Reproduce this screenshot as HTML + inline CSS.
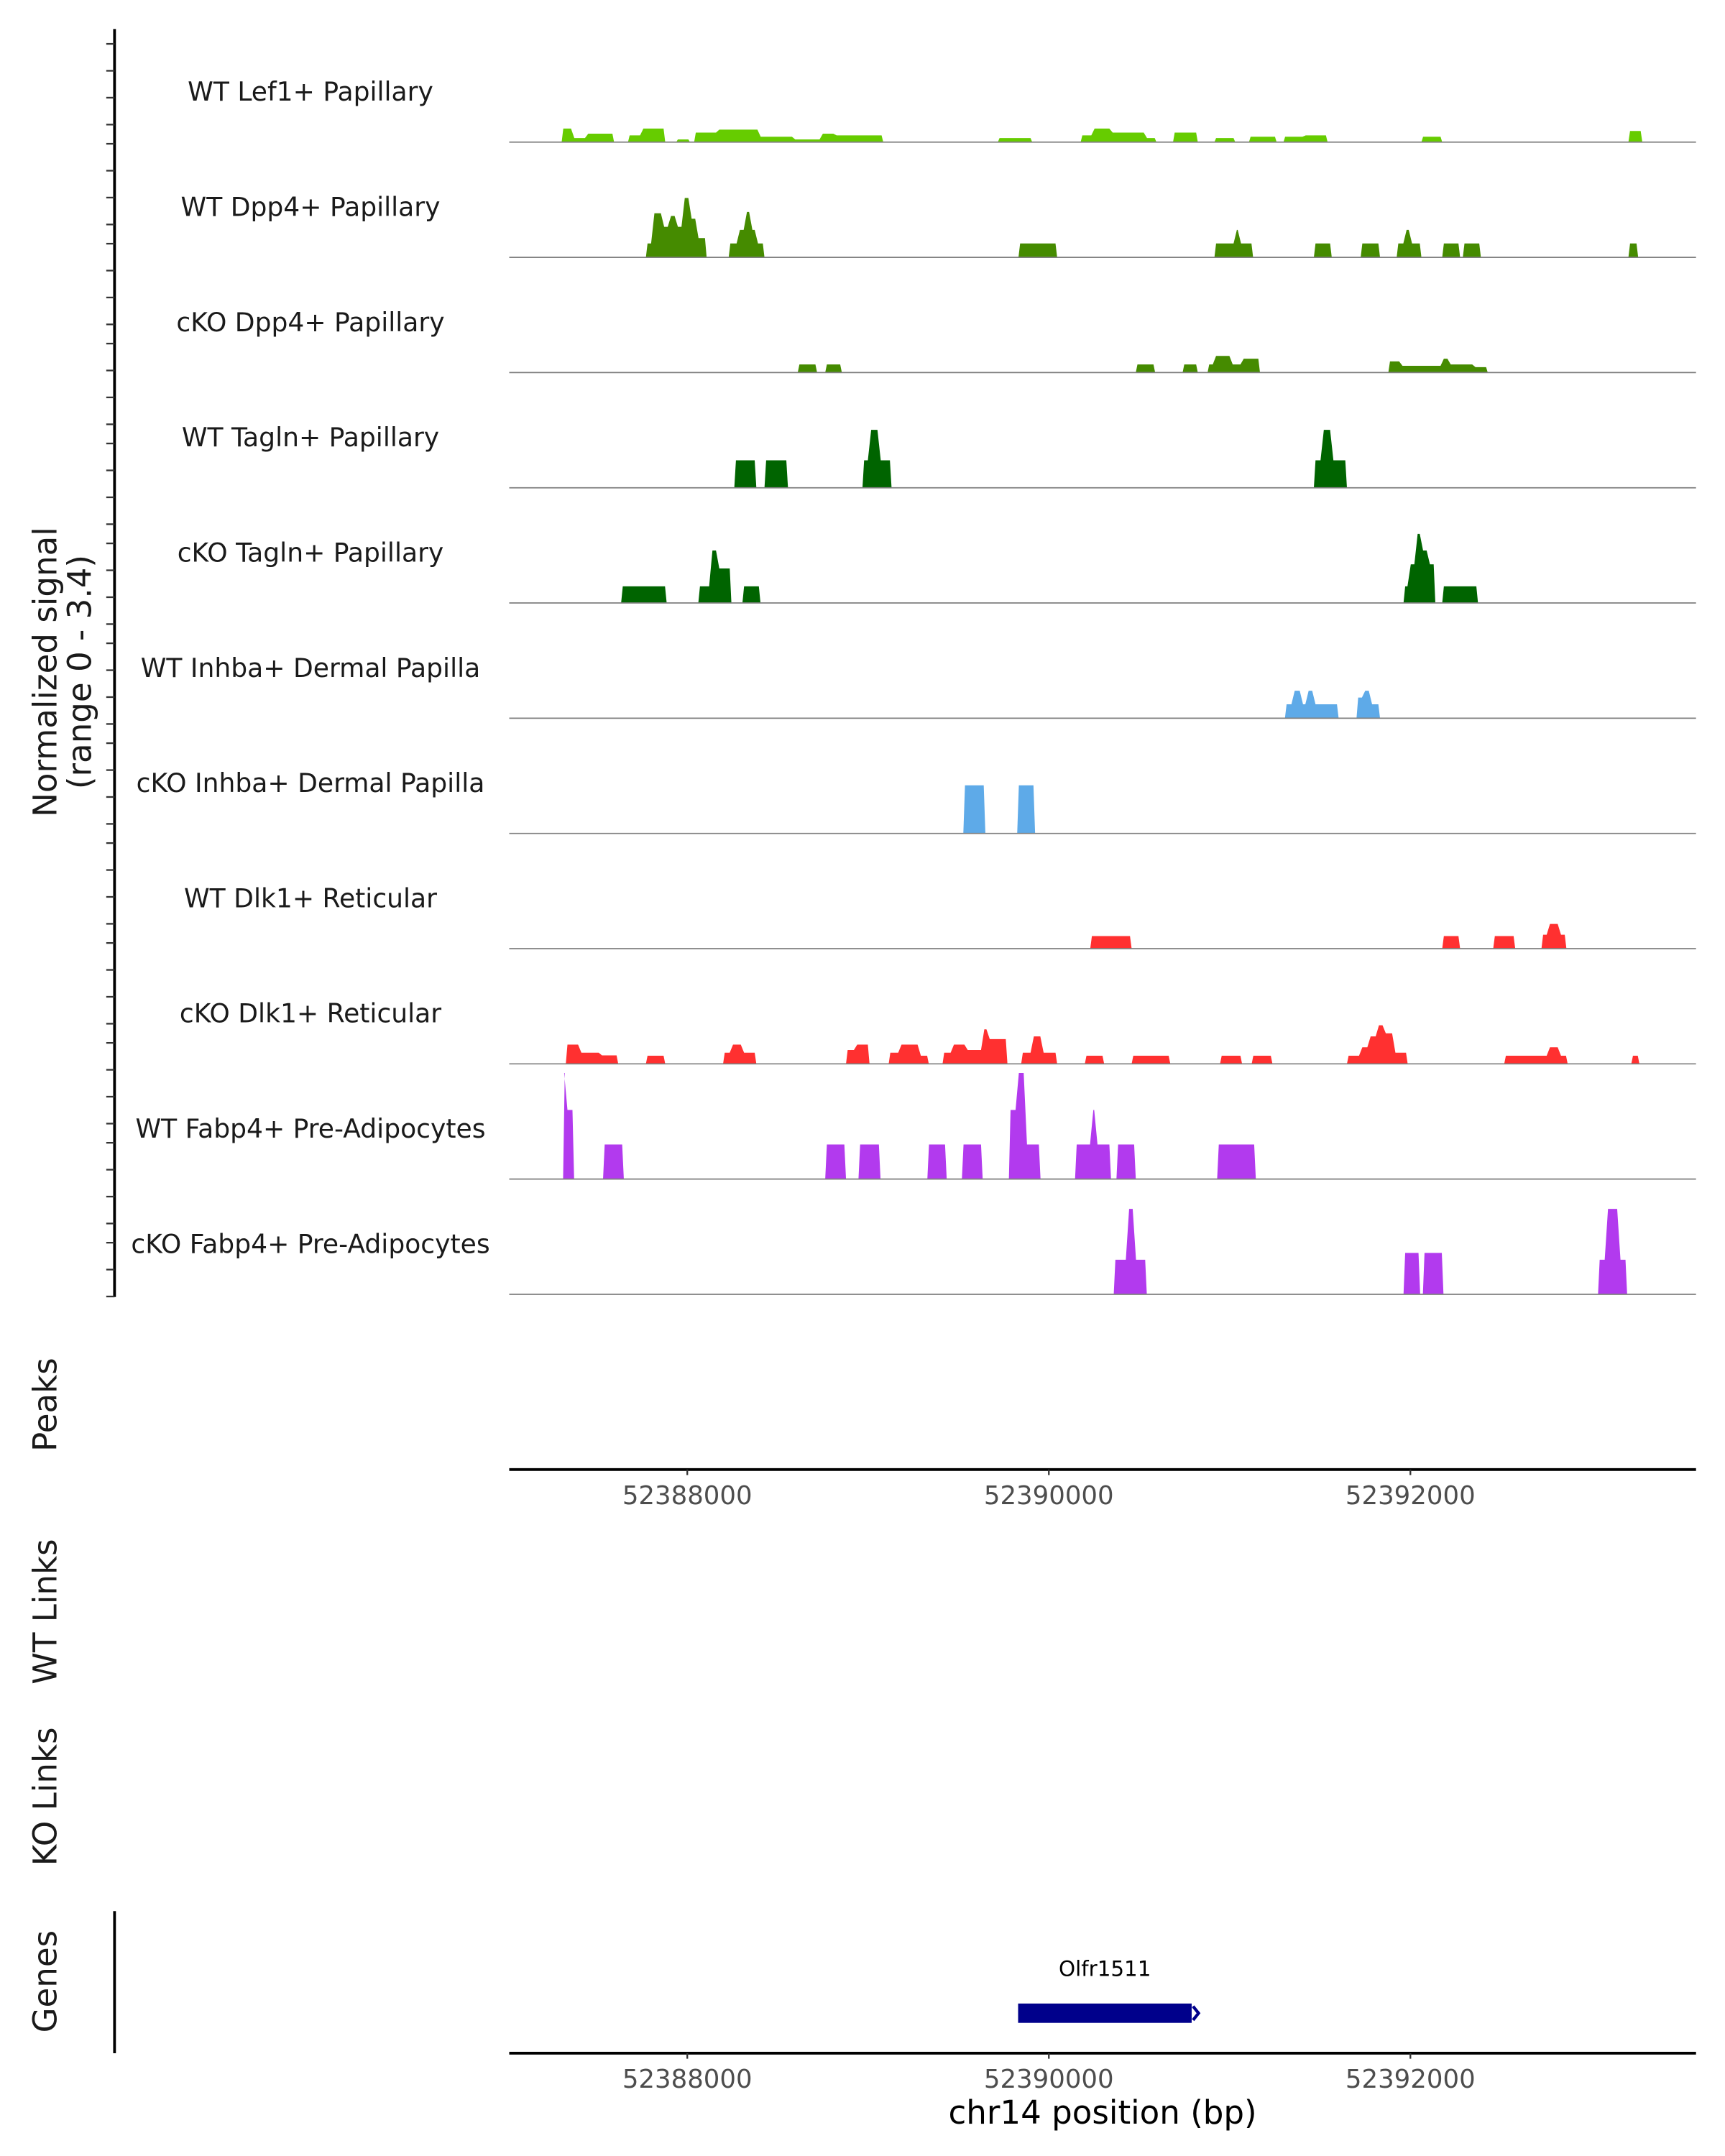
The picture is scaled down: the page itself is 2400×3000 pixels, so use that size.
<!DOCTYPE html>
<html><head><meta charset="utf-8"><style>
html,body{margin:0;padding:0;background:#fff;}
svg{display:block;font-family:"DejaVu Sans","Liberation Sans",sans-serif;}
</style></head><body>
<svg id="chart" width="2400" height="3000" viewBox="0 0 1250 1562.5" xmlns="http://www.w3.org/2000/svg">
<rect width="1250" height="1562.5" fill="#fff"/>
<g id="tracks"></g>
<g id="axes"></g>
</svg>
<script>
const regionStart = 52387015, regionEnd = 52393580;
const xTicks = [52388000, 52390000, 52392000];
const trackNames = ["WT Lef1+ Papillary","WT Dpp4+ Papillary","cKO Dpp4+ Papillary","WT Tagln+ Papillary","cKO Tagln+ Papillary","WT Inhba+ Dermal Papilla","cKO Inhba+ Dermal Papilla","WT Dlk1+ Reticular","cKO Dlk1+ Reticular","WT Fabp4+ Pre-Adipocytes","cKO Fabp4+ Pre-Adipocytes"];
const trackColors = ["#66cc00","#458b00","#458b00","#006400","#006400","#5eaae8","#5eaae8","#ff3030","#ff3030","#b23aee","#b23aee"];
const yMax = 3.4;
const B = 52387000;
const lef1WT = [[305,366,.4],[366,443,.12],[443,595,.25],[672,748,.2],[748,878,.4],[939,1015,.08],[1038,1168,.28],[1168,1397,.37],[1397,1588,.16],[1588,1741,.08],[1741,1817,.25],[1817,2084,.2],[2718,2908,.12],[3176,3244,.2],[3244,3344,.4],[3344,3534,.28],[3534,3595,.12],[3687,3824,.28],[3916,4031,.12],[4107,4260,.16],[4298,4412,.16],[4412,4542,.2],[5061,5176,.16],[6206,6283,.33]];
const dpp4WT = [[771,809,.41],[809,863,1.3],[863,901,.9],[901,939,1.22],[939,977,.9],[977,1015,1.75],[1015,1053,1.14],[1053,1107,.57],[1229,1282,.41],[1282,1321,.81],[1321,1351,1.34],[1351,1382,.81],[1382,1427,.41],[2832,2924,.41],[2924,3046,.41],[3916,4031,.41],[4031,4054,.81],[4054,4130,.41],[4466,4565,.41],[4725,4832,.41],[4924,4970,.41],[4970,5000,.81],[5000,5061,.41],[5176,5275,.41],[5290,5390,.41],[6206,6260,.41]];
const dpp4KO = [[1611,1718,.24],[1763,1855,.24],[3481,3588,.24],[3740,3824,.24],[3878,3916,.24],[3916,4008,.49],[4008,4069,.24],[4069,4168,.41],[4878,4947,.33],[4947,5176,.2],[5176,5214,.41],[5214,5351,.24],[5351,5428,.16]];
const taglnWT = [[1260,1382,.81],[1427,1557,.81],[1969,2008,.81],[2008,2061,1.71],[2061,2130,.81],[4466,4512,.81],[4512,4565,1.71],[4565,4649,.81]];
const taglnKO = [[634,741,.49],[741,886,.49],[1061,1130,.49],[1130,1168,1.55],[1168,1244,1.02],[1305,1405,.49],[4962,4993,.49],[4993,5031,1.14],[5031,5061,2.04],[5061,5099,1.55],[5099,5138,1.14],[5176,5374,.49]];
const inhbaWT = [[4306,4351,.41],[4351,4397,.81],[4397,4428,.41],[4428,4466,.81],[4466,4512,.41],[4512,4603,.41],[4702,4741,.61],[4741,4779,.81],[4779,4832,.41]];
const inhbaKO = [[2527,2649,1.42],[2825,2924,1.42]];
const dlk1WT = [[3229,3336,.37],[3336,3458,.37],[5176,5275,.37],[5458,5580,.37],[5725,5763,.41],[5763,5824,.73],[5824,5863,.41]];
const dlk1KO = [[328,405,.57],[405,519,.33],[519,618,.25],[771,878,.24],[1198,1244,.33],[1244,1305,.57],[1305,1382,.33],[1878,1931,.41],[1931,2008,.57],[2114,2176,.33],[2176,2283,.57],[2283,2336,.24],[2412,2466,.33],[2466,2542,.57],[2542,2634,.41],[2634,2664,1.02],[2664,2771,.73],[2847,2908,.33],[2908,2962,.81],[2962,3046,.33],[3199,3306,.24],[3458,3672,.24],[3947,4069,.24],[4122,4237,.24],[4649,4725,.24],[4725,4771,.49],[4771,4817,.81],[4817,4855,1.14],[4855,4908,.9],[4908,4985,.33],[5519,5763,.24],[5763,5824,.49],[5824,5870,.24],[6222,6267,.24]];
const fabp4WT = [[313,328,3.13],[328,374,2.04],[534,649,1.02],[1763,1878,1.02],[1947,2069,1.02],[2328,2435,1.02],[2519,2634,1.02],[2779,2825,2.04],[2825,2870,3.13],[2870,2954,1.02],[3145,3237,1.02],[3237,3260,2.04],[3260,3344,1.02],[3374,3481,1.02],[3931,4145,1.02]];
const fabp4KO = [[3359,3435,1.02],[3435,3473,2.52],[3473,3542,1.02],[4962,5054,1.22],[5069,5183,1.22],[6038,6084,1.02],[6084,6153,2.52],[6153,6199,1.02]];
const trackData = [lef1WT,dpp4WT,dpp4KO,taglnWT,taglnKO,inhbaWT,inhbaKO,dlk1WT,dlk1KO,fabp4WT,fabp4KO];
const geneName = "Olfr1511";
const geneStart = 52389830, geneEnd = 52390790;

const NS = "http://www.w3.org/2000/svg";
const X0 = 369, X1 = 1229, TH = 83.5, firstBase = 103;
function xs(bp){ return X0 + (bp - regionStart) / (regionEnd - regionStart) * (X1 - X0); }
function mk(tag, attrs, parent){ const e = document.createElementNS(NS, tag); for (const k in attrs) e.setAttribute(k, attrs[k]); parent.appendChild(e); return e; }
const gT = document.getElementById('tracks'), gA = document.getElementById('axes');

trackData.forEach((blocks, i) => {
  const base = firstBase + i * TH;
  const g = mk('g', {}, gT);
  
  
  const lab = mk('text', {x: 225, y: base - 30, 'text-anchor': 'middle', 'font-size': 18.8, fill: '#1a1a1a'}, g);
  lab.textContent = trackNames[i];
  
  
  const groups = [];
  blocks.slice().sort((a,b)=>a[0]-b[0]).forEach(b => {
    const last = groups[groups.length-1];
    if (last && b[0] - last[last.length-1][1] <= 5) last.push(b); else groups.push([b]);
  });
  groups.forEach(gr => {
    const s = 1.2;
    let pts = [`${xs(B+gr[0][0])},${base}`];
    gr.forEach(b => {
      const x0 = xs(B + b[0]), x1 = xs(B + b[1]);
      const y = base - b[2] / yMax * TH;
      pts.push(`${x0+s},${y}`, `${x1-s},${y}`);
    });
    pts.push(`${xs(B+gr[gr.length-1][1])},${base}`);
    const p = mk('polygon', {points: pts.join(' '), fill: trackColors[i]}, g);
    
    
  });
  const bl = mk('line', {x1: X0, x2: X1, y1: base, y2: base, stroke: '#7f7f7f', 'stroke-width': 0.9}, g);
  
  
});

const ax = mk('line', {x1: 83, x2: 83, y1: 21, y2: 940, stroke: '#000', 'stroke-width': 2}, gA);


for (let blk = 0; blk < 14; blk++) {
  for (let k = 0; k < 4; k++) {
    const y = 31.8 + blk * 72.4 + k * 19.5;
    if (y > 940) continue;
    const t = mk('line', {x1: 77, x2: 83, y1: y, y2: y, stroke: '#333', 'stroke-width': 1.2}, gA);
    
    
  }
}
function vtext(txt, x, y, name, size){
  const t = mk('text', {x: x, y: y, 'text-anchor': 'middle', 'font-size': size || 23.5, fill: '#1a1a1a', transform: `rotate(-90 ${x} ${y})`}, gA);
  t.textContent = txt;
  
  
  return t;
}
vtext('Normalized signal', 41, 487, 'y-axis-title');
vtext('(range 0 - 3.4)', 66, 487, 'y-axis-subtitle');
vtext('Peaks', 41, 1018, 'peaks-title');
vtext('WT Links', 41, 1168, 'wt-links-title');
vtext('KO Links', 41, 1302, 'ko-links-title');
vtext('Genes', 41, 1436, 'genes-title');

function xaxis(y, name){
  const l = mk('line', {x1: X0, x2: X1, y1: y, y2: y, stroke: '#000', 'stroke-width': 2}, gA);
  
  
  xTicks.forEach(v => {
    const tk = mk('line', {x1: xs(v), x2: xs(v), y1: y, y2: y + 4, stroke: '#333', 'stroke-width': 1.2}, gA);
    
    
    const t = mk('text', {x: xs(v), y: y + 25, 'text-anchor': 'middle', 'font-size': 18.5, fill: '#4d4d4d'}, gA);
    t.textContent = v;
    
    
  });
}
xaxis(1065, 'peaks-x-axis');
xaxis(1488, 'genes-x-axis');
const gl = mk('line', {x1: 83, x2: 83, y1: 1385, y2: 1488, stroke: '#000', 'stroke-width': 2}, gA);



const xt = mk('text', {x: 799, y: 1539, 'text-anchor': 'middle', 'font-size': 23.5, fill: '#000'}, gA);
xt.textContent = 'chr14 position (bp)';



const gx0 = xs(geneStart), gx1 = xs(geneEnd);
const gr = mk('rect', {x: gx0, y: 1452, width: gx1 - gx0, height: 14, fill: '#00008b'}, gA);


const ch = mk('polyline', {points: `${gx1+1},1454 ${gx1+5},1459 ${gx1+1},1464`, fill: 'none', stroke: '#00008b', 'stroke-width': 2.2}, gA);


const gt = mk('text', {x: (gx0 + gx1) / 2, y: 1432, 'text-anchor': 'middle', 'font-size': 15.3, fill: '#000'}, gA);
gt.textContent = geneName;


</script>
</body></html>
